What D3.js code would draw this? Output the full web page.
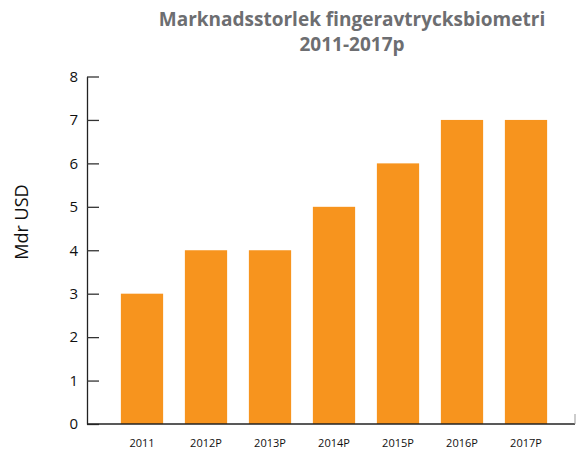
<!DOCTYPE html>
<html>
<head>
<meta charset="utf-8">
<script src="https://cdn.jsdelivr.net/npm/d3@7"></script>
<style>
  body { margin: 0; background: #fff; }
  svg { display: block; font-family: "Open Sans", "Noto Sans", sans-serif; }
</style>
</head>
<body>
<div id="chart"></div>
<script>
const years = ['2011', '2012P', '2013P', '2014P', '2015P', '2016P', '2017P'];
const sizes = [3, 4, 4, 5, 6, 7, 7];
const yTicks = [0, 1, 2, 3, 4, 5, 6, 7, 8];
const titleLines = ['Marknadsstorlek fingeravtrycksbiometri', '2011-2017p'];

const width = 576;
const height = 450;

const data = years.map((y, i) => ({year: y, value: sizes[i]}));

const svg = d3.select('#chart').append('svg')
  .attr('width', width)
  .attr('height', height);

const xScale = d3.scaleBand()
  .domain(years)
  .range([110, 558])
  .paddingInner(0.34)
  .paddingOuter(0.17);

const yScale = d3.scaleLinear()
  .domain([0, 8])
  .range([424, 76.5]);

// bars
svg.selectAll('rect.bar').data(data)
  .enter().append('rect')
  .attr('class', 'bar')
  .attr('x', d => xScale(d.year))
  .attr('y', d => yScale(d.value))
  .attr('width', xScale.bandwidth())
  .attr('height', d => yScale(0) - yScale(d.value))
  .attr('fill', '#f7941e');

// y axis, ticks pointing inward
const yAxis = svg.append('g')
  .attr('transform', 'translate(87,0)')
  .call(d3.axisRight(yScale).tickValues(yTicks).tickSize(12).tickSizeOuter(0).tickFormat(d3.format('d')));
yAxis.select('.domain').attr('stroke', '#222').attr('stroke-width', 1.3);
yAxis.selectAll('.tick line').attr('stroke', '#333').attr('stroke-width', 1.3);
yAxis.selectAll('.tick text')
  .attr('x', -9)
  .attr('text-anchor', 'end')
  .attr('font-size', 15)
  .attr('font-family', '"Open Sans", sans-serif')
  .attr('fill', '#111');

// x axis
svg.append('line')
  .attr('x1', 87).attr('x2', 575)
  .attr('y1', yScale(0)).attr('y2', yScale(0))
  .attr('stroke', '#222').attr('stroke-width', 1.3);
svg.append('line')
  .attr('x1', 575).attr('x2', 575)
  .attr('y1', yScale(0)).attr('y2', yScale(0) - 10)
  .attr('stroke', '#999').attr('stroke-width', 1);

svg.selectAll('text.xlab').data(years)
  .enter().append('text')
  .attr('class', 'xlab')
  .attr('x', d => xScale(d) + xScale.bandwidth() / 2)
  .attr('y', 447)
  .attr('text-anchor', 'middle')
  .attr('font-size', 11)
  .attr('fill', '#111')
  .text(d => d);

// y label
svg.append('text')
  .attr('transform', 'translate(28,222) rotate(-90)')
  .attr('text-anchor', 'middle')
  .attr('font-size', 18)
  .attr('fill', '#111')
  .text('Mdr USD');

// title
svg.selectAll('text.title').data(titleLines)
  .enter().append('text')
  .attr('class', 'title')
  .attr('x', 352)
  .attr('y', (d, i) => 26 + i * 25)
  .attr('text-anchor', 'middle')
  .attr('font-size', 19)
  .attr('font-weight', 'bold')
  .attr('fill', '#6d6e71')
  .text(d => d);
</script>
</body>
</html>
